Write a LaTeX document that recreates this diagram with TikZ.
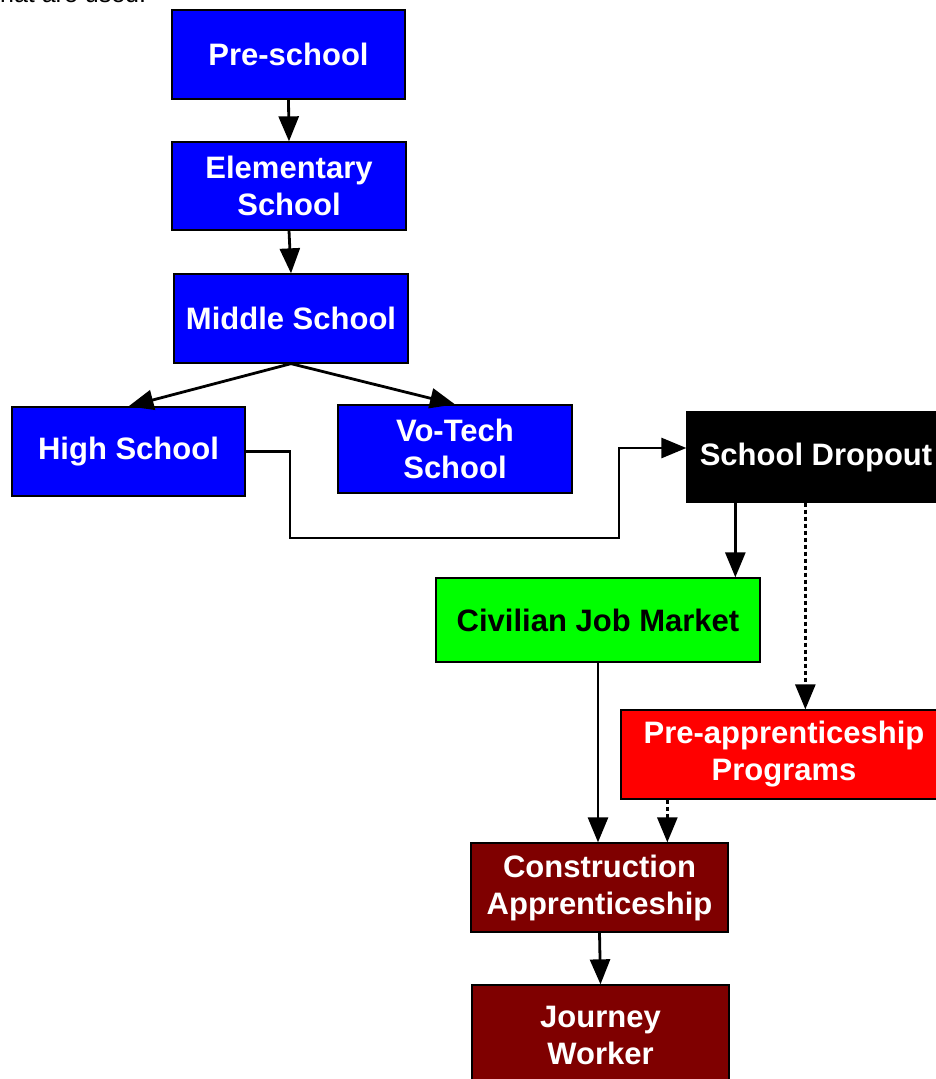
\documentclass[tikz,border=0pt]{standalone}
\usepackage{fontspec}
\setmainfont{Liberation Sans}
\usetikzlibrary{arrows.meta,calc}
\definecolor{jobgreen}{RGB}{0,255,0}
\definecolor{tradered}{RGB}{127,0,0}
\tikzset{
  box/.style={draw=black, line width=1.3pt, inner sep=0pt, align=center,
    text=white, font=\fontsize{31}{37}\selectfont\bfseries},
  schoolbox/.style={box, fill=blue},
  arr/.style={line width=2.8pt, -{Triangle[length=25pt,width=20pt]}},
  dotarr/.style={arr, dash pattern=on 4pt off 3pt},
}
\begin{document}
\begin{tikzpicture}[x=1pt,y=-1pt]
\useasboundingbox (0,0) rectangle (936,1079);
\clip (0,0) rectangle (936,1079);

% partially visible caption line above the chart
\node[anchor=base west, inner sep=0pt, font=\fontsize{25}{30}\selectfont] (note) at (-7,2.5) {that are used.};

% schooling path
\node[schoolbox, minimum width=233, minimum height=89] (pre) at (288.5,54.5) {Pre-school};
\node[schoolbox, minimum width=234, minimum height=88] (elem) at (289,186) {Elementary\\School};
\node[schoolbox, minimum width=234, minimum height=89] (mid) at (291,318.5) {Middle School};
\node[schoolbox, minimum width=233, minimum height=89] (high) at (128.5,451.5) {High School};
\node[schoolbox, minimum width=234, minimum height=88] (votech) at (455,449) {Vo-Tech\\School};

% dropout and work routes
\node[box, fill=black, minimum width=258, minimum height=90] (drop) at (816,457) {School Dropout};
\node[box, fill=jobgreen, text=black, minimum width=324, minimum height=84] (civ) at (598,620) {Civilian Job Market};
\node[box, fill=red, minimum width=326, minimum height=89] (preapp) at (784,754.5) {Pre-apprenticeship\\Programs};
\node[box, fill=tradered, minimum width=257, minimum height=89] (cons) at (599.5,887.5) {Construction\\Apprenticeship};
\node[box, fill=tradered, minimum width=257, minimum height=100] (jw) at (600.5,1035) {Journey\\Worker};

% connectors
\draw[arr] (pre.south) -- (elem.north);
\draw[arr] (elem.south) -- (mid.north);
\draw[arr] (mid.south) -- (high.north);
\draw[arr] (mid.south) -- (votech.north);

\coordinate (bendA) at (290,538);
\coordinate (bendB) at (619,538);
\draw[arr] (high.east) -| (bendA) -- (bendB) |- ([yshift=9pt]drop.west);

\draw[arr] ([xshift=49pt]drop.south west) -- ([xshift=49pt]drop.south west |- civ.north);
\draw[dotarr] ([xshift=119pt]drop.south west) -- ([xshift=119pt]drop.south west |- preapp.north);
\draw[arr] (civ.south) -- (civ.south |- cons.north);
\draw[dotarr] ([xshift=47pt]preapp.south west) -- ([xshift=47pt]preapp.south west |- cons.north);
\draw[arr] (cons.south) -- (jw.north);
\end{tikzpicture}
\end{document}
